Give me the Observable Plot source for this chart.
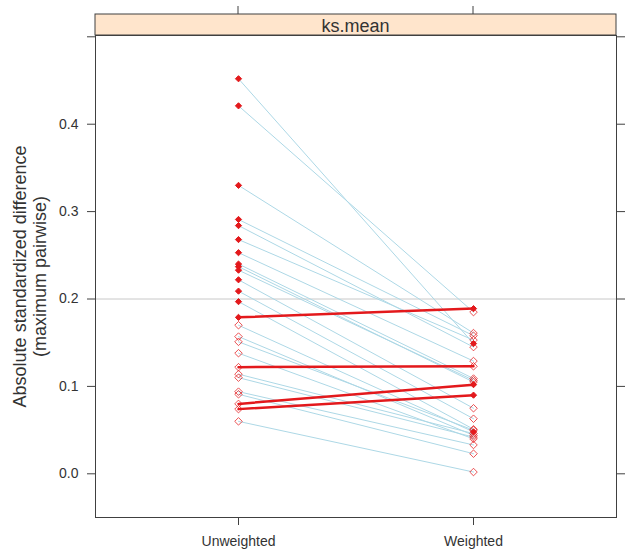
<!DOCTYPE html>
<html>
<head>
<meta charset="utf-8">
<script src="https://cdn.jsdelivr.net/npm/d3@7"></script>
<script src="https://cdn.jsdelivr.net/npm/@observablehq/plot@0.6"></script>
<style>
  html, body { margin: 0; padding: 0; background: #ffffff; }
</style>
</head>
<body>
<div id="chart"></div>
<script>
const categories = ["Unweighted", "Weighted"];
const panelTitle = "ks.mean";
const yLabel = "Absolute standardized difference\n(maximum pairwise)";
const yTicks = [0, 0.1, 0.2, 0.3, 0.4, 0.5];
const yTickLabels = ["0.0", "0.1", "0.2", "0.3", "0.4", ""];
const refLine = [0.2];

const unweighted = [0.452, 0.421, 0.330, 0.291, 0.284, 0.268, 0.253, 0.240, 0.237, 0.233, 0.222, 0.209, 0.197,
                    0.179, 0.170, 0.157, 0.151, 0.138, 0.122, 0.114, 0.110, 0.094, 0.091, 0.080, 0.074, 0.060];
const weighted   = [0.149, 0.185, 0.161, 0.158, 0.145, 0.153, 0.129, 0.109, 0.105, 0.107, 0.075, 0.063, 0.051,
                    0.189, 0.048, 0.044, 0.050, 0.040, 0.123, 0.046, 0.042, 0.033, 0.023, 0.102, 0.090, 0.002];
const sigUnweighted = [1,1,1,1,1,1,1,1,1,1,1,1,1,1,0,0,0,0,0,0,0,0,0,0,0,0];
const sigWeighted   = [1,0,0,0,0,0,0,0,0,0,0,0,0,1,1,0,0,0,0,0,0,0,0,1,1,0];

const rows = [];
unweighted.forEach((u, i) => {
  const w = weighted[i];
  const up = w > u;
  rows.push({id: i, cond: categories[0], value: u, sig: !!sigUnweighted[i], up});
  rows.push({id: i, cond: categories[1], value: w, sig: !!sigWeighted[i], up});
});

const RED = "#e3191c";

function stripMark(index, scales, values, dims) {
  const g = d3.create("svg:g");
  const x0 = dims.marginLeft, x1 = dims.width - dims.marginRight;
  const yTop = 14, yBot = dims.marginTop;
  g.append("rect")
    .attr("x", x0).attr("y", yTop)
    .attr("width", x1 - x0).attr("height", yBot - yTop)
    .attr("fill", "#ffe5cc").attr("stroke", "#404040").attr("stroke-width", 1);
  g.append("text")
    .attr("x", (x0 + x1) / 2).attr("y", (yTop + yBot) / 2 + 1)
    .attr("text-anchor", "middle").attr("dominant-baseline", "central")
    .attr("font-size", 18).attr("fill", "#333")
    .text(panelTitle);
  categories.forEach(c => {
    g.append("line")
      .attr("x1", scales.x(c)).attr("x2", scales.x(c))
      .attr("y1", yTop - 8).attr("y2", yTop)
      .attr("stroke", "#404040");
  });
  return g.node();
}

const chart = Plot.plot({
  width: 632,
  height: 555,
  marginLeft: 95,
  marginRight: 16,
  marginTop: 35,
  marginBottom: 38,
  style: {fontFamily: "'Liberation Sans', Arial, sans-serif", fontSize: "14px", color: "#333", background: "white"},
  x: {type: "point", domain: categories, padding: 0.6085},
  y: {domain: [-0.05, 0.5015]},
  marks: [
    Plot.ruleY(refLine, {stroke: "#c8c8c8", strokeWidth: 1}),
    Plot.line(rows.filter(d => !d.up), {x: "cond", y: "value", z: "id", stroke: "#add8e6", strokeWidth: 1}),
    Plot.line(rows.filter(d => d.up), {x: "cond", y: "value", z: "id", stroke: RED, strokeWidth: 2.5}),
    Plot.dot(rows.filter(d => !d.sig), {x: "cond", y: "value", symbol: "diamond2", r: 3.4, stroke: RED, strokeWidth: 1, fill: "none", strokeOpacity: 0.75}),
    Plot.dot(rows.filter(d => d.sig), {x: "cond", y: "value", symbol: "diamond2", r: 2.8, fill: RED, stroke: RED, strokeWidth: 1}),
    Plot.frame({stroke: "#404040"}),
    Plot.axisY({ticks: yTicks, tickSize: 8, tickPadding: 9, tickFormat: (d) => yTickLabels[yTicks.indexOf(d)], label: null, fontSize: 14, stroke: "#404040"}),
    Plot.axisY({anchor: "right", ticks: yTicks, tickSize: 8, tickFormat: () => "", label: null, stroke: "#404040"}),
    Plot.axisX({ticks: categories, tickSize: 8, tickPadding: 11, label: null, fontSize: 14, stroke: "#404040"}),
    Plot.text([yLabel], {text: d => d, frameAnchor: "left", textAnchor: "middle", lineAnchor: "middle", dx: -65.5, rotate: -90, fontSize: 18, lineHeight: 1.1, fill: "#333"}),
    stripMark
  ]
});

document.getElementById("chart").appendChild(chart);
</script>
</body>
</html>
